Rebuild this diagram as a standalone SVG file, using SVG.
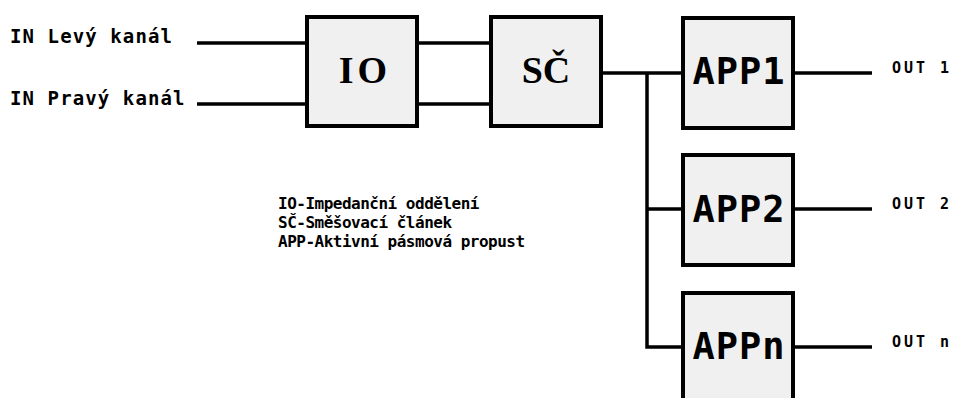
<svg xmlns="http://www.w3.org/2000/svg" width="957" height="398" viewBox="0 0 957 398">
<style>
.box{fill:#f0f0f0;stroke:#000;stroke-width:4}
.w{fill:none;stroke:#000;stroke-width:3.5}
.lbl{font-family:"DejaVu Sans Mono",monospace;font-weight:bold;fill:#000}
.ser{font-family:"Liberation Serif",serif;font-weight:bold;font-size:38px;text-anchor:middle}
.app{font-size:37px;text-anchor:middle;letter-spacing:1px}
.in{font-size:19px;letter-spacing:1.1px}
.leg{font-size:16px;letter-spacing:-0.5px}
.out{font-size:15px;letter-spacing:3px}
</style>
<rect width="957" height="398" fill="#fff"/>
<g id="connectors">
<line class="w" x1="197" y1="43" x2="307" y2="43"/>
<line class="w" x1="197" y1="104" x2="307" y2="104"/>
<line class="w" x1="417" y1="43" x2="491" y2="43"/>
<line class="w" x1="417" y1="104" x2="491" y2="104"/>
<line class="w" x1="601" y1="73" x2="683" y2="73"/>
<polyline class="w" points="647,73 647,347 683,347"/>
<line class="w" x1="647" y1="209" x2="683" y2="209"/>
<line class="w" x1="793" y1="73" x2="872" y2="73"/>
<line class="w" x1="793" y1="209" x2="872" y2="209"/>
<line class="w" x1="793" y1="347" x2="872" y2="347"/>
</g>
<g id="in-labels">
<text class="lbl in" x="10" y="43">IN Levý kanál</text>
<text class="lbl in" x="10" y="105">IN Pravý kanál</text>
</g>
<g id="IO">
<rect class="box" x="307" y="17" width="110" height="109"/>
<text class="lbl ser" x="365" y="83" letter-spacing="4">IO</text>
</g>
<g id="SC">
<rect class="box" x="491" y="17" width="110" height="109"/>
<text class="lbl ser" x="546" y="83">SČ</text>
</g>
<g id="APP1">
<rect class="box" x="683" y="18" width="110" height="110"/>
<text class="lbl app" x="739" y="84">APP1</text>
</g>
<g id="APP2">
<rect class="box" x="683" y="155" width="110" height="110"/>
<text class="lbl app" x="739" y="222">APP2</text>
</g>
<g id="APPn">
<rect class="box" x="683" y="293" width="110" height="112"/>
<text class="lbl app" x="739" y="359">APPn</text>
</g>
<g id="outputs">
<text class="lbl out" x="892" y="73">OUT 1</text>
<text class="lbl out" x="892" y="209">OUT 2</text>
<text class="lbl out" x="892" y="347">OUT n</text>
</g>
<g id="legend">
<text class="lbl leg" x="278" y="209">IO-Impedanční oddělení</text>
<text class="lbl leg" x="278" y="228">SČ-Směšovací článek</text>
<text class="lbl leg" x="278" y="247">APP-Aktivní pásmová propust</text>
</g>
</svg>
